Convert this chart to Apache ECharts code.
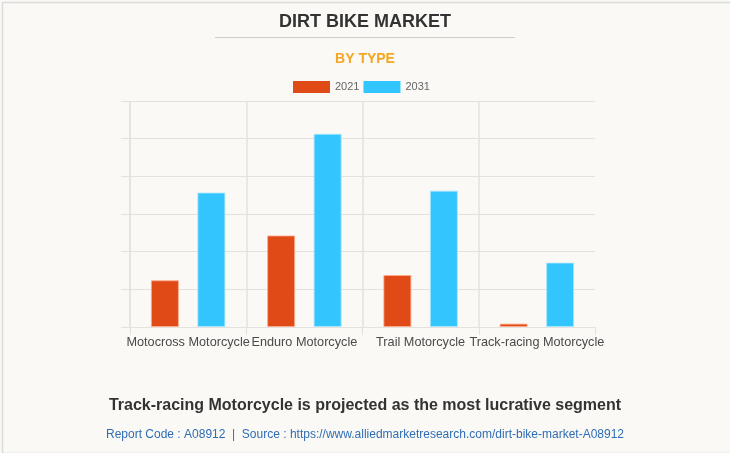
<!DOCTYPE html>
<html>
<head>
<meta charset="utf-8">
<script src="https://cdn.jsdelivr.net/npm/echarts@6/dist/echarts.min.js"></script>
<style>
html,body{margin:0;padding:0;background:#faf9f5;}
#c{width:730px;height:453px;}
</style>
</head>
<body>
<div id="c"></div>
<script>
var categories = ['Motocross Motorcycle', 'Enduro Motorcycle', 'Trail Motorcycle', 'Track-racing Motorcycle'];
var seriesNames = ['2021', '2031'];
var values2021 = [1.24, 2.43, 1.38, 0.09];
var values2031 = [3.57, 5.13, 3.62, 1.71];
var titleText = 'DIRT BIKE MARKET';
var subtitleText = 'BY TYPE';
var captionText = 'Track-racing Motorcycle is projected as the most lucrative segment';
var sourceText = 'Report Code : A08912  |  Source : https://www.alliedmarketresearch.com/dirt-bike-market-A08912';

var chart = echarts.init(document.getElementById('c'), null, {renderer: 'canvas'});
var gridColor = '#e3e2de';
var option = {
  backgroundColor: '#faf9f5',
  animation: false,
  graphic: [
    {type: 'rect', left: 0, top: 0, shape: {width: 729, height: 451}, style: {fill: 'none', stroke: '#dcdcdc', lineWidth: 1.5}},
    {type: 'text', left: 'center', top: 13, style: {text: titleText, font: 'bold 18px "Liberation Sans", Arial, sans-serif', fill: '#333333'}},
    {type: 'rect', left: 215, top: 37, shape: {width: 300, height: 1}, style: {fill: '#cccccc'}},
    {type: 'text', left: 'center', top: 52, style: {text: subtitleText, font: 'bold 14px "Liberation Sans", Arial, sans-serif', fill: '#f6a623'}},
    {type: 'text', left: 'center', top: 398, style: {text: captionText, font: 'bold 16px "Liberation Sans", Arial, sans-serif', fill: '#333333'}},
    {type: 'text', left: 'center', top: 429, style: {text: sourceText, font: '12px "Liberation Sans", Arial, sans-serif', fill: '#2f6db5'}}
  ],
  legend: {
    left: 293, top: 81, padding: 0,
    itemWidth: 37, itemHeight: 12, itemGap: 4,
    icon: 'rect',
    itemStyle: {borderWidth: 0},
    textStyle: {color: '#666666', fontSize: 11, fontFamily: '"Liberation Sans", Arial, sans-serif'},
    data: seriesNames
  },
  grid: {left: 130, right: 135, top: 101, bottom: 126, containLabel: false},
  xAxis: {
    type: 'category',
    data: categories,
    axisLine: {show: true, lineStyle: {color: gridColor}},
    axisTick: {show: true, length: 8, lineStyle: {color: gridColor}},
    splitLine: {show: true, lineStyle: {color: ['#dedcd8', gridColor, gridColor, gridColor, 'rgba(0,0,0,0)'], width: 1.5}},
    axisLabel: {interval: 0, margin: 9, color: '#4a4a4a', fontSize: 12.7, fontFamily: '"Liberation Sans", Arial, sans-serif', overflow: 'none'}
  },
  yAxis: {
    type: 'value',
    min: 0, max: 6, interval: 1,
    axisLine: {show: false},
    axisTick: {show: true, length: 9, lineStyle: {color: gridColor}},
    axisLabel: {show: false},
    splitLine: {show: true, lineStyle: {color: gridColor}}
  },
  series: [
    {name: seriesNames[0], type: 'bar', data: values2021, barWidth: 28, barGap: '66%',
     itemStyle: {color: '#e04a17', borderColor: 'rgba(255,170,140,0.8)', borderWidth: 1}},
    {name: seriesNames[1], type: 'bar', data: values2031, barWidth: 28,
     itemStyle: {color: '#33c6fe', borderColor: 'rgba(170,230,255,0.8)', borderWidth: 1}}
  ]
};
chart.setOption(option);
</script>
</body>
</html>
